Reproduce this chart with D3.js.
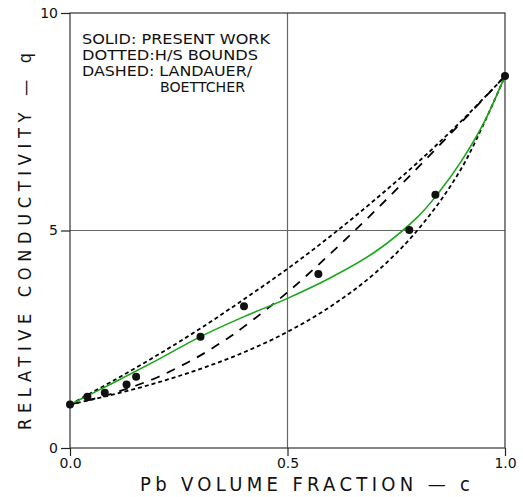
<!DOCTYPE html>
<html>
<head>
<meta charset="utf-8">
<script src="https://cdn.jsdelivr.net/npm/d3@7"></script>
<style>
  body { margin: 0; background: #fff; }
  text { font-family: "DejaVu Sans Condensed", "DejaVu Sans", sans-serif; fill: #111; }
</style>
</head>
<body>
<div id="chart"></div>
<script>
const w = 523
const h = 497

// measured points (c, q)
const pointC = [0, 0.04, 0.08, 0.13, 0.152, 0.30, 0.40, 0.571, 0.78, 0.84, 1.0]
const pointQ = [1.0, 1.18, 1.27, 1.46, 1.64, 2.56, 3.26, 4.0, 5.01, 5.82, 8.55]

// solid: present work
const solidC = [0, 0.1, 0.2, 0.3, 0.4, 0.5, 0.6, 0.7, 0.8, 0.85, 0.9, 0.95, 1.0]
const solidQ = [1.0, 1.5, 2.02, 2.56, 3.02, 3.44, 3.92, 4.5, 5.32, 5.9, 6.6, 7.45, 8.55]

// dotted: H/S bounds
const boundC = [0, 0.1, 0.2, 0.3, 0.4, 0.5, 0.6, 0.7, 0.8, 0.9, 1.0]
const upperQ = [1.0, 1.55, 2.13, 2.75, 3.42, 4.12, 4.88, 5.7, 6.57, 7.52, 8.55]
const lowerQ = [1.0, 1.23, 1.5, 1.82, 2.2, 2.67, 3.26, 4.01, 5.02, 6.43, 8.55]

// dashed: Landauer / Boettcher
const dashC = [0, 0.05, 0.1, 0.15, 0.2, 0.25, 0.3, 0.35, 0.4, 0.5, 0.6, 0.7, 0.8, 0.9, 1.0]
const dashQ = [1.0, 1.12, 1.26, 1.43, 1.62, 1.86, 2.13, 2.44, 2.79, 3.58, 4.48, 5.44, 6.45, 7.49, 8.55]

const xTicks = [0, 0.5, 1.0]
const xTickLabels = ['0.0', '0.5', '1.0']
const yTicks = [0, 5, 10]

const legendLines = ['SOLID: PRESENT WORK', 'DOTTED:H/S BOUNDS', 'DASHED: LANDAUER/', 'BOETTCHER']

const pLeft = 70, pRight = 505, pTop = 13, pBottom = 448

const svg = d3.select('#chart')
    .append('svg')
    .attr('width', w)
    .attr('height', h)

const xScale = d3.scaleLinear().domain([0, 1]).range([pLeft, pRight])
const yScale = d3.scaleLinear().domain([0, 10]).range([pBottom, pTop])

// grid lines at the middle
svg.append('line')
    .attr('x1', xScale(0.5)).attr('x2', xScale(0.5))
    .attr('y1', pTop).attr('y2', pBottom)
    .attr('stroke', '#666').attr('stroke-width', 1.2)
svg.append('line')
    .attr('x1', pLeft).attr('x2', pRight)
    .attr('y1', yScale(5)).attr('y2', yScale(5))
    .attr('stroke', '#666').attr('stroke-width', 1.2)

// frame
svg.append('rect')
    .attr('x', pLeft).attr('y', pTop)
    .attr('width', pRight - pLeft).attr('height', pBottom - pTop)
    .attr('fill', 'none').attr('stroke', '#333').attr('stroke-width', 1.2)

const xAxis = d3.axisBottom(xScale).tickValues(xTicks)
    .tickFormat((d, i) => xTickLabels[i]).tickSize(8).tickPadding(2)
const yAxis = d3.axisLeft(yScale).tickValues(yTicks)
    .tickFormat(d3.format('d')).tickSize(9).tickPadding(3)

const gx = svg.append('g')
    .attr('transform', `translate(0, ${pBottom})`)
    .call(xAxis)
gx.select('.domain').remove()
gx.selectAll('text').style('font-size', '14px').style('font-family', '"DejaVu Sans", sans-serif')

const gy = svg.append('g')
    .attr('transform', `translate(${pLeft}, 0)`)
    .call(yAxis)
gy.select('.domain').remove()
gy.selectAll('text').style('font-size', '14px').style('font-family', '"DejaVu Sans", sans-serif')
svg.selectAll('.tick line').attr('stroke', '#222').attr('stroke-width', 1.2)

// axis titles
svg.append('text')
    .attr('x', 140).attr('y', 491)
    .attr('textLength', 330).attr('lengthAdjust', 'spacing')
    .style('font-size', '20px').style('font-weight', 300)
    .text('Pb VOLUME FRACTION \u2014 c')

svg.append('text')
    .attr('transform', 'translate(31, 430) rotate(-90)')
    .attr('textLength', 377).attr('lengthAdjust', 'spacing')
    .style('font-size', '18px').style('font-weight', 300)
    .text('RELATIVE CONDUCTIVITY \u2014 q')

// legend text
const legendX = [82, 82, 82, 160]
const legendY = [44, 60, 76, 92]
const legendW = [188, 176, 170, 85]
svg.selectAll('.legend')
    .data(legendLines)
    .enter()
    .append('text')
    .attr('class', 'legend')
    .attr('x', (d, i) => legendX[i])
    .attr('y', (d, i) => legendY[i])
    .attr('textLength', (d, i) => legendW[i])
    .attr('lengthAdjust', 'spacingAndGlyphs')
    .style('font-size', '14.5px')
    .text(d => d)

const line = (cs, qs) => d3.line()
    .x((d, i) => xScale(cs[i]))
    .y(d => yScale(d))
    .curve(d3.curveCatmullRom)(qs)

// dotted bounds
;[upperQ, lowerQ].forEach(q => {
    svg.append('path')
        .attr('d', line(boundC, q))
        .attr('fill', 'none')
        .attr('stroke', '#000')
        .attr('stroke-width', 1.8)
        .attr('stroke-dasharray', '4,3')
})

// dashed
svg.append('path')
    .attr('d', line(dashC, dashQ))
    .attr('fill', 'none')
    .attr('stroke', '#000')
    .attr('stroke-width', 1.8)
    .attr('stroke-dasharray', '9,8')

// solid green
svg.append('path')
    .attr('d', line(solidC, solidQ))
    .attr('fill', 'none')
    .attr('stroke', '#1aa51a')
    .attr('stroke-width', 1.6)

// points
svg.selectAll('circle.pt')
    .data(pointQ)
    .enter()
    .append('circle')
    .attr('class', 'pt')
    .attr('cx', (d, i) => xScale(pointC[i]))
    .attr('cy', d => yScale(d))
    .attr('r', 4)
    .attr('fill', '#111')
</script>
</body>
</html>
